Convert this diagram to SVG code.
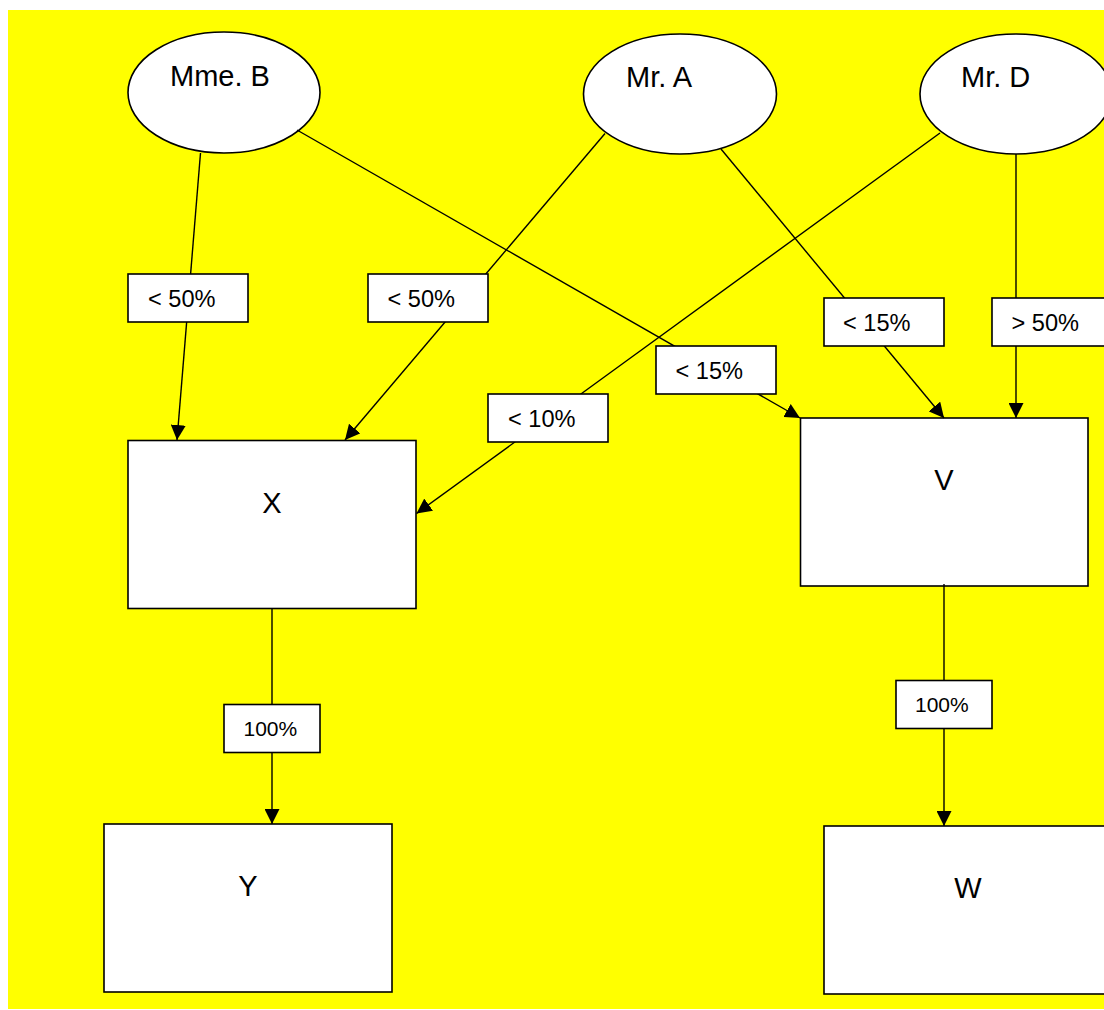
<svg xmlns="http://www.w3.org/2000/svg" width="1104" height="1010" viewBox="0 0 1104 1010">
  <defs>
    <marker id="arrow" markerUnits="userSpaceOnUse" markerWidth="15" markerHeight="15" refX="15" refY="7.5" orient="auto">
      <path d="M0,0 L15,7.5 L0,15 Z" fill="#000"/>
    </marker>
    <style>
      .shape { fill: #fff; stroke: #000; stroke-width: 1.6; }
      .conn { fill: none; stroke: #000; stroke-width: 1.4; marker-end: url(#arrow); }
      .lbl { fill: #fff; stroke: #000; stroke-width: 1.6; }
      .name { font-family: "Liberation Sans", Arial, sans-serif; font-size: 29px; fill: #000; }
      .pct { font-family: "Liberation Sans", Arial, sans-serif; font-size: 23.6px; fill: #000; }
      .pct100 { font-family: "Liberation Sans", Arial, sans-serif; font-size: 21px; fill: #000; }
    </style>
  </defs>

  <!-- page background -->
  <rect x="8" y="10" width="1096" height="999" fill="#ffff00"/>

  <!-- persons -->
  <g id="mme-b">
    <ellipse class="shape" cx="224" cy="92.5" rx="96" ry="60.5"/>
    <text class="name" x="170" y="85.5">Mme. B</text>
  </g>
  <g id="mr-a">
    <ellipse class="shape" cx="680" cy="94" rx="96.5" ry="60"/>
    <text class="name" x="626" y="86.7">Mr. A</text>
  </g>
  <g id="mr-d">
    <ellipse class="shape" cx="1016" cy="94" rx="96" ry="60"/>
    <text class="name" x="961" y="86.7">Mr. D</text>
  </g>

  <!-- companies -->
  <g id="x">
    <rect class="shape" x="128" y="440.5" width="288" height="168"/>
    <text class="name" x="272" y="512.5" text-anchor="middle">X</text>
  </g>
  <g id="v">
    <rect class="shape" x="800.5" y="418" width="287.5" height="168"/>
    <text class="name" x="944" y="490" text-anchor="middle">V</text>
  </g>
  <g id="y">
    <rect class="shape" x="104" y="824" width="288" height="168"/>
    <text class="name" x="248" y="896" text-anchor="middle">Y</text>
  </g>
  <g id="w">
    <rect class="shape" x="824" y="826" width="288" height="168"/>
    <text class="name" x="968" y="898" text-anchor="middle">W</text>
  </g>

  <!-- shareholdings -->
  <g id="connectors">
    <line class="conn" x1="200.5" y1="153" x2="177" y2="440"/>
    <line class="conn" x1="605" y1="133.5" x2="345" y2="440"/>
    <line class="conn" x1="297" y1="130" x2="800" y2="418"/>
    <line class="conn" x1="721" y1="149" x2="944" y2="418"/>
    <line class="conn" x1="940" y1="133" x2="416.5" y2="513.5"/>
    <line class="conn" x1="1016" y1="154" x2="1016" y2="418"/>
    <line class="conn" x1="272" y1="608" x2="272" y2="824"/>
    <line class="conn" x1="944" y1="584" x2="944" y2="826"/>

    <g id="lbl-b-x">
      <rect class="lbl" x="128" y="274" width="120" height="48"/>
      <text class="pct" x="148" y="307">&lt; 50%</text>
    </g>
    <g id="lbl-a-x">
      <rect class="lbl" x="368" y="274" width="120" height="48"/>
      <text class="pct" x="387.5" y="307">&lt; 50%</text>
    </g>
    <g id="lbl-b-v">
      <rect class="lbl" x="656" y="346" width="120" height="48"/>
      <text class="pct" x="675.5" y="379">&lt; 15%</text>
    </g>
    <g id="lbl-a-v">
      <rect class="lbl" x="824" y="298" width="120" height="48"/>
      <text class="pct" x="843" y="331">&lt; 15%</text>
    </g>
    <g id="lbl-d-v">
      <rect class="lbl" x="992" y="298" width="120" height="48"/>
      <text class="pct" x="1011.5" y="331">&gt; 50%</text>
    </g>
    <g id="lbl-d-x">
      <rect class="lbl" x="488" y="394" width="120" height="48"/>
      <text class="pct" x="508" y="427.3">&lt; 10%</text>
    </g>
    <g id="lbl-x-y">
      <rect class="lbl" x="224" y="704.5" width="96" height="48"/>
      <text class="pct100" x="243.5" y="735.7">100%</text>
    </g>
    <g id="lbl-v-w">
      <rect class="lbl" x="896" y="680.5" width="96" height="48"/>
      <text class="pct100" x="915" y="711.7">100%</text>
    </g>
  </g>
</svg>
